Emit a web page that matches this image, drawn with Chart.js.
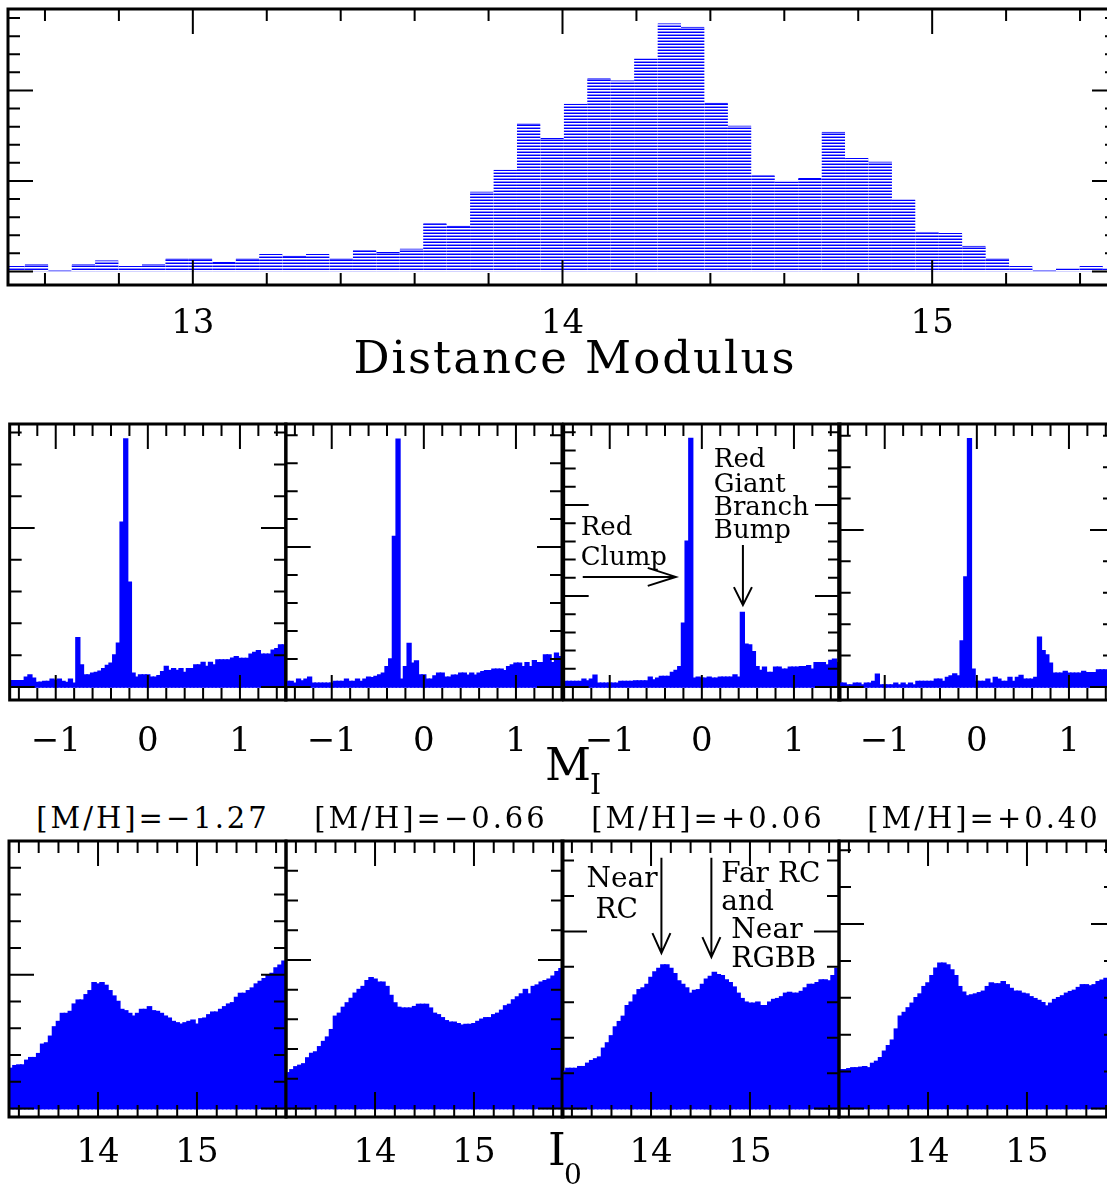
<!DOCTYPE html>
<html>
<head>
<meta charset="utf-8">
<script src="https://cdn.jsdelivr.net/npm/chart.js@4.4.1/dist/chart.umd.min.js"></script>
<style>
html, body { margin: 0; padding: 0; background: #fff; overflow: hidden; }
body { width: 1107px; height: 1186px; position: relative; font-family: 'DejaVu Serif', serif; color: #000; }
canvas { position: absolute; }
.t { position: absolute; white-space: nowrap; line-height: 1; }
</style>
</head>
<body>
<canvas id="dm"></canvas>
<canvas id="mi0"></canvas><canvas id="mi1"></canvas><canvas id="mi2"></canvas><canvas id="mi3"></canvas>
<canvas id="io0"></canvas><canvas id="io1"></canvas><canvas id="io2"></canvas><canvas id="io3"></canvas>

<div class="t" style="left:575px; top:335px; font-size:45px; letter-spacing:2px; transform:translateX(-50%);">Distance Modulus</div>
<div class="t" style="left:545px; top:742px; font-size:45px;">M</div>
<div class="t" style="left:590px; top:771px; font-size:28px;">I</div>
<div class="t" style="left:548px; top:1127px; font-size:45px;">I</div>
<div class="t" style="left:564px; top:1161px; font-size:28px;">0</div>

<script>
// distance modulus histogram (top)
const dmLo = 12.482, dmW = 0.0634;
const dmCounts = [5.5, 7.7, 1, 7.7, 12, 5.5, 7.7, 14, 14, 10, 14, 19, 17, 19, 14, 23, 21, 25,
  53, 50, 88, 112, 163, 147, 185, 213, 211, 235, 274, 270, 186, 161, 106, 99, 103, 154, 125, 121,
  79, 43, 42, 28, 14, 5.5, 1, 3, 5.5, 3];
const dmTicks = [13, 14, 15];

// M_I histograms (middle row), bins of 0.04 mag from -1.5
const miLo = -1.5, miW = 0.04;
const mi1 = [3.8,3.8,3.8,3.8,6,7.5,5.5,2.7,3,3.4, 3.4,4.8,4,4.8,3.4,2.7,4.8,2.3,31,13.8,
  7.5,7.5,8.6,9,9.8,11.5,13.4,14.9,20,27.5, 103.6,156,65.8,8.6,6,7.5,7.5,7.5,6,6,
  7,9.6,12.8,10.3,11.5,10.3,11.5,9,11.5,11.5, 13.8,13.8,15.3,12.8,15.3,13.8,17,17,17,17,
  18,19,17.8,17.8,17.8,20.5,21.6,22.8,20.5,20.5, 20.5,23,24,26.4,26.4];
const mi2 = [3.8,3.8,2.6,5.5,4.3,5.5,6.9,2.6,2.6,2.6, 2.6,2.6,2.6,3.8,3.8,3.8,5.5,3.8,3.8,5.5,
  3.8,5.5,6.9,6.5,7.4,8.6,9.7,14.5,20,107.6, 177,5.5,14.5,31,16.9,18.5,8.6,8.6,5.5,5.5,
  7.8,9.7,9.7,6.9,6.9,8.3,8.3,9.7,9.7,8.3, 9.7,8.3,9.7,10.9,11.6,11.6,12.6,12.6,12.6,11.6,
  14.5,15.7,16.9,16.9,14.5,17.3,14.5,18.8,17.3,17.3, 22.8,22.8,17.3,24,21.6];
const mi3 = [5.9,5.9,5.9,5.9,5.9,8.4,6.6,8.4,12.8,4, 4,4,4,4,4,5.9,5.9,5.9,5.9,6.6,
  6.6,6.6,6.6,10.6,7.7,9.5,11.4,11.4,11.4,15.8, 18,22.3,70,160,273,9.5,10.6,9.5,9.5,10.6,
  9.5,9.5,10.6,10.6,10.6,10.6,13,10.6,81.7,47, 46,38.8,22.3,18,21.6,15.8,15.8,21.6,21.6,19.4,
  19.4,21.6,21.6,21.6,22.3,22.3,23.4,19.4,26.7,26.7, 26.7,24.2,29,30.4,26.7];
const mi4 = [2.3,2.3,1.3,1.3,2.3,2.3,1.3,2.3,2.3,3.4, 8,1.3,1.3,1.3,1.3,2.3,1.3,2.3,1.3,2.3,
  1.3,3.4,3.4,3.4,3.4,3.4,4.9,4.9,3.4,6, 7,8.3,7,29.3,70,158,11.3,3.4,3.4,3.4,
  4.9,2.3,6,4.9,3.4,3.4,6,3.4,6,7.2, 4.9,4.9,4.9,6,31.6,23,20.4,15,8.7,8.7,
  8.7,9.8,8.7,8.7,8.7,8.7,9.8,9.1,9.1,9.1, 10.8,10.8,10.8,10.8,10.8];
const miTicks = [-1, 0, 1];
const miYMin = [-8.2, -9.3, -14.3, -8.3];
const miYMax = [165.4, 188, 289, 167.5];

// I_0 histograms (bottom row), bins of 0.04 mag from 13.1
const ioLo = 13.1, ioW = 0.04;
const io1 = [30,32,32.5,32.5,36,38,38,41,48,49, 54,61,65,71,71,72.5,78,81,81,85,
  88,94,93,94,92,88,84,80,74,73, 71,69,71,74,74,76,73,72.5,71,69,
  67.5,65,64,63,64,65,66,63,67,67.5, 70,72,72,74,76,78,79,83,86,86,
  88,90,93,95,97,100,101,105,107,110];
const io2 = [24,26,28,29,30,34,37,38,41.5,45, 48,53,62,64,68,71,74,77.5,80,82,
  86,88,87,85,85,82,76,71,68,67.5, 67.5,67.5,68.5,70,70,70,67.5,64,63,61,
  59,58,58,57,56,56.5,56.5,57,58.5,60, 61,61,63,64,66,69,70,73,75,77,
  80,77,82,83,85,86,87,89,92,94];
const io3 = [21,22.6,22.6,22.6,23.6,23.6,25.5,27,28,29, 34,37,41,46,49,52,58,60,64,67,
  68,70,74,77,79,81,81,79,76,72, 70,68,65,66.6,67,70,73,74.5,76.8,75.5,
  75,72.6,71,68.5,65,62,60,59.4,59.4,60, 58,58,60,61.5,62,63,65,65.5,65,65,
  66,68,70,70,71,72.6,72.6,72,75,79];
const io4 = [21,21,21.5,22,22,22.3,22.6,22,24.4,25.5, 27.5,31,34,37,43,50,52,54.5,57,60,
  62,66,68,72,76,78.7,78.7,77.8,75,72, 66,63,61,61.5,62,62.7,63.5,66,68,67.5,
  67.5,68.7,67,65,63.5,63.5,62.4,62,60.5,59.5, 58.5,57.3,55.5,57,59,60,61,62.4,63.3,64,
  65.5,67,67,66.4,67,68.7,69.5,70.5,71,72];
const ioTicks = [14, 15];
const ioYMin = [-6.3, -5.7, -4.75, -4.6];
const ioYMax = [200, 180, 151, 145];
const metallicity = ['\u22121.27', '\u22120.66', '+0.06', '+0.40'];

const BLUE = '#0000ff';

// frame, inward ticks on all four sides, and annotations
function eachTick(min, max, minor, major, fn) {
  for (let k = Math.ceil(min / minor - 1e-9); k * minor <= max + 1e-9; k++) {
    const v = k * minor;
    fn(v, Math.abs(v / major - Math.round(v / major)) < 1e-6);
  }
}

const framePlugin = {
  id: 'frame',
  afterDatasetsDraw(chart, args, o) {
    const { ctx, chartArea: a } = chart;
    const x = chart.scales.x, y = chart.scales.y;
    ctx.save();
    ctx.strokeStyle = '#000';
    ctx.lineWidth = 2;
    ctx.beginPath();
    eachTick(x.min, x.max, o.xMinor, o.xMajor, (v, major) => {
      const p = x.getPixelForValue(v), L = major ? 25 : 12;
      ctx.moveTo(p, a.top); ctx.lineTo(p, a.top + L);
      ctx.moveTo(p, a.bottom); ctx.lineTo(p, a.bottom - L);
    });
    eachTick(y.min, y.max, o.yMinor, o.yMajor, (v, major) => {
      const p = y.getPixelForValue(v), L = major ? 25 : 12;
      ctx.moveTo(a.left, p); ctx.lineTo(a.left + L, p);
      ctx.moveTo(a.right, p); ctx.lineTo(a.right - L, p);
    });
    ctx.stroke();

    (o.arrows || []).forEach(ar => {
      const x1 = x.getPixelForValue(ar.x1), y1 = y.getPixelForValue(ar.y1);
      const x2 = x.getPixelForValue(ar.x2), y2 = y.getPixelForValue(ar.y2);
      const d = Math.hypot(x2 - x1, y2 - y1), ux = (x2 - x1) / d, uy = (y2 - y1) / d;
      ctx.beginPath();
      ctx.moveTo(x1, y1); ctx.lineTo(x2, y2);
      ctx.moveTo(x2 - ar.head * ux - 9 * uy, y2 - ar.head * uy + 9 * ux);
      ctx.lineTo(x2, y2);
      ctx.lineTo(x2 - ar.head * ux + 9 * uy, y2 - ar.head * uy - 9 * ux);
      ctx.stroke();
    });
    if (o.notes) {
      ctx.fillStyle = '#000';
      ctx.font = o.noteFont;
      ctx.textAlign = 'left';
      ctx.textBaseline = 'alphabetic';
      o.notes.forEach(n => ctx.fillText(n.text, x.getPixelForValue(n.x), y.getPixelForValue(n.y)));
    }

    ctx.lineWidth = 3;
    ctx.strokeRect(a.left, a.top, a.right - a.left, a.bottom - a.top);
    ctx.restore();
  }
};
Chart.register(framePlugin);

function histPoints(lo, w, counts) {
  return counts.map((c, i) => ({ x: lo + w * (i + 0.5), y: c }));
}

function panel(id, box, xRange, yRange, points, tickVals, fill, labelPad, frame, border) {
  const cv = document.getElementById(id);
  const m = 4, axisH = 60;
  cv.width = box.w + 2 * m;
  cv.height = box.h + m + axisH;
  cv.style.left = (box.x - m) + 'px';
  cv.style.top = (box.y - m) + 'px';
  return new Chart(cv, {
    type: 'bar',
    data: {
      datasets: [{
        data: points,
        backgroundColor: fill,
        borderColor: BLUE,
        borderWidth: border || 0,
        borderSkipped: false,
        inflateAmount: border ? 0.33 : 0.8,
        barPercentage: 1,
        categoryPercentage: 1
      }]
    },
    options: {
      responsive: false,
      animation: false,
      events: [],
      layout: { padding: { left: m, right: m, top: m, bottom: 0 } },
      plugins: { legend: { display: false }, tooltip: { enabled: false }, frame: frame },
      scales: {
        x: {
          type: 'linear', min: xRange[0], max: xRange[1], offset: false,
          grid: { display: false, drawTicks: false, offset: false },
          border: { display: false },
          afterFit: s => { s.height = axisH; },
          afterBuildTicks: s => { s.ticks = tickVals.map(v => ({ value: v })); },
          ticks: {
            autoSkip: false, maxRotation: 0, padding: labelPad, color: '#000',
            font: { family: 'DejaVu Serif', size: 34, lineHeight: 1 },
            callback: v => String(v).replace('-', '\u2212')
          }
        },
        y: { display: false, min: yRange[0], max: yRange[1] }
      }
    }
  });
}

// hatched fill for the top histogram
const pc = document.createElement('canvas');
pc.width = 4; pc.height = 3;
const pctx = pc.getContext('2d');
pctx.fillStyle = '#ffffff'; pctx.fillRect(0, 0, 4, 3);
pctx.fillStyle = BLUE; pctx.fillRect(0, 0, 4, 1);
pctx.fillStyle = '#8a8aff'; pctx.fillRect(0, 2, 4, 1);
const hatch = document.getElementById('dm').getContext('2d').createPattern(pc, 'repeat');

panel('dm', { x: 8, y: 9, w: 1109, h: 276 }, [12.5, 15.5], [-15, 290],
  histPoints(dmLo, dmW, dmCounts), dmTicks, hatch, 22,
  { xMinor: 0.2, xMajor: 1, yMinor: 20, yMajor: 100 },
  { top: 1, left: 0, right: 0, bottom: 0 });

const miSets = [mi1, mi2, mi3, mi4];
const miLeft = [9, 285, 563, 838];
const miFrames = miSets.map(() => ({ xMinor: 0.2, xMajor: 1, yMinor: 20, yMajor: 100 }));
miFrames[2].noteFont = '26px "DejaVu Serif"';
miFrames[2].notes = [
  { text: 'Red', x: -1.315, y: 167 }, { text: 'Clump', x: -1.315, y: 134 },
  { text: 'Red', x: 0.13, y: 242 }, { text: 'Giant', x: 0.13, y: 214 },
  { text: 'Branch', x: 0.13, y: 189 }, { text: 'Bump', x: 0.13, y: 164 }
];
miFrames[2].arrows = [
  { x1: -1.293, y1: 121, x2: -0.283, y2: 121, head: 28 },
  { x1: 0.446, y1: 156, x2: 0.446, y2: 90, head: 18 }
];
miSets.forEach((set, i) => {
  panel('mi' + i, { x: miLeft[i], y: 424, w: 277, h: 276 }, [-1.5, 1.5], [miYMin[i], miYMax[i]],
    histPoints(miLo, miW, set), miTicks, BLUE, 25, miFrames[i]);
});

const ioSets = [io1, io2, io3, io4];
const ioLeft = [9, 286, 562, 839];
const ioFrames = ioSets.map(() => ({ xMinor: 0.2, xMajor: 1, yMinor: 20, yMajor: 100 }));
ioFrames[2].noteFont = '28px "DejaVu Serif"';
ioFrames[2].notes = [
  { text: 'Near', x: 13.347, y: 125 }, { text: 'RC', x: 13.438, y: 107.5 },
  { text: 'Far RC', x: 14.711, y: 128 }, { text: 'and', x: 14.711, y: 112 },
  { text: 'Near', x: 14.812, y: 96 }, { text: 'RGBB', x: 14.812, y: 80 }
];
ioFrames[2].arrows = [
  { x1: 14.105, y1: 141.5, x2: 14.105, y2: 87.7, head: 20 },
  { x1: 14.61, y1: 141.5, x2: 14.61, y2: 85.5, head: 20 }
];
ioSets.forEach((set, i) => {
  panel('io' + i, { x: ioLeft[i], y: 841, w: 277, h: 276 }, [13.1, 15.9], [ioYMin[i], ioYMax[i]],
    histPoints(ioLo, ioW, set), ioTicks, BLUE, 19, ioFrames[i]);
});

// metallicity titles above the bottom row
const titleCenter = [153, 431, 708, 984];
metallicity.forEach((mh, i) => {
  const d = document.createElement('div');
  d.className = 't';
  d.textContent = '[M/H]=' + mh;
  d.style.cssText = 'left:' + titleCenter[i] + 'px; top:804px; font-size:29px; letter-spacing:3px; transform:translateX(-50%);';
  document.body.appendChild(d);
});
</script>
</body>
</html>
